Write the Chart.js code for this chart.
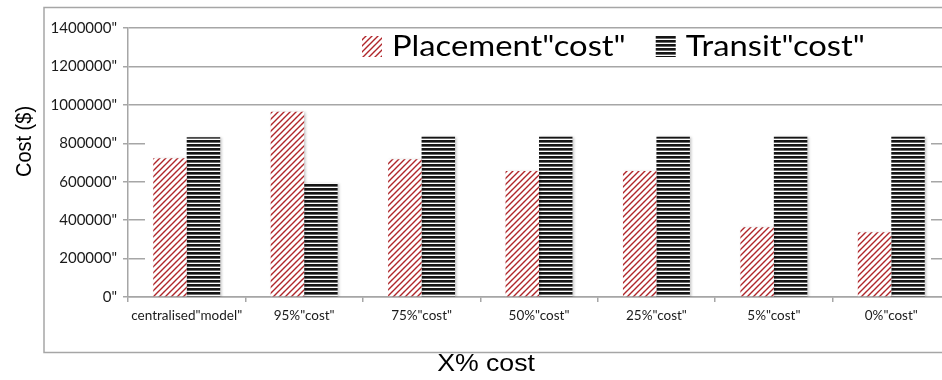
<!DOCTYPE html>
<html>
<head>
<meta charset="utf-8">
<script src="https://cdn.jsdelivr.net/npm/chart.js@4.4.1/dist/chart.umd.min.js"></script>
<style>
  html, body { margin: 0; padding: 0; background: #fff; overflow: hidden; }
  #wrap { position: relative; width: 960px; height: 380px; }
</style>
</head>
<body>
<div id="wrap"><canvas id="c"></canvas></div>
<script>
// Scenario names along the x axis
const categories = ['centralised"model"', '95%"cost"', '75%"cost"', '50%"cost"', '25%"cost"', '5%"cost"', '0%"cost"'];
// Cost per scenario ($)
const placementCost = [722000, 964000, 717000, 656000, 656000, 363000, 337000];
const transitCost   = [831000, 592000, 834000, 834000, 834000, 834000, 834000];
const seriesNames = ['Placement"cost"', 'Transit"cost"'];
// Value axis
const yMin = 0, yMax = 1400000, yStep = 200000;
const xTitle = 'X% cost';
const yTitle = 'Cost ($)';

const GREY = '#a6a6a6';

// Red diagonal hatch for placement cost
function hatchPattern() {
  const s = 6, c = document.createElement('canvas');
  c.width = s; c.height = s;
  const g = c.getContext('2d');
  g.fillStyle = '#fff'; g.fillRect(0, 0, s, s);
  g.strokeStyle = '#b0262a'; g.lineWidth = 1.4;
  g.beginPath();
  g.moveTo(-1, s + 1); g.lineTo(s + 1, -1);
  g.moveTo(-1, 1); g.lineTo(1, -1);
  g.moveTo(s - 1, s + 1); g.lineTo(s + 1, s - 1);
  g.stroke();
  return document.createElement('canvas').getContext('2d').createPattern(c, 'repeat');
}
// Black horizontal stripes for transit cost
function stripePattern() {
  const c = document.createElement('canvas');
  c.width = 4; c.height = 4;
  const g = c.getContext('2d');
  g.fillStyle = '#151515'; g.fillRect(0, 0, 4, 2);
  g.fillStyle = '#6a6a6a'; g.fillRect(0, 2, 4, 1);
  g.fillStyle = '#ffffff'; g.fillRect(0, 3, 4, 1);
  return document.createElement('canvas').getContext('2d').createPattern(c, 'repeat');
}

const decor = {
  id: 'decor',
  beforeDraw(chart) {
    const { ctx } = chart;
    ctx.save();
    ctx.strokeStyle = GREY;
    ctx.lineWidth = 1.5;
    ctx.strokeRect(44, 7.5, 1000, 345);
    ctx.restore();
  },
  beforeDatasetsDraw(chart) {
    const { ctx, scales: { x, y } } = chart;
    // plain white panel behind the bars hides the lower gridlines
    const top = y.getPixelForValue(920000);
    const left = x.left + 17;
    const right = 931;
    ctx.save();
    ctx.fillStyle = '#fff';
    ctx.fillRect(left, top, right - left, y.bottom - top - 1);
    ctx.restore();
    ctx.save();
    ctx.shadowColor = 'rgba(0,0,0,0.22)';
    ctx.shadowBlur = 2;
    ctx.shadowOffsetX = 1.5;
    ctx.shadowOffsetY = 0.5;
  },
  afterDatasetsDraw(chart) {
    const { ctx } = chart;
    ctx.restore();
    // legend (slightly widened lettering)
    const sx = 1.17;
    ctx.save();
    ctx.font = '28px Lato';
    ctx.textBaseline = 'middle';
    let lx = 362;
    const ly = 47;
    chart.data.datasets.forEach((ds) => {
      ctx.fillStyle = ds.backgroundColor;
      ctx.fillRect(lx, ly - 11, 20, 21);
      lx += 30;
      ctx.save();
      ctx.translate(lx, ly);
      ctx.scale(sx, 1);
      ctx.fillStyle = '#000';
      ctx.fillText(ds.label, 0, 0);
      ctx.restore();
      lx += ctx.measureText(ds.label).width * sx + 30;
    });
    ctx.restore();
    // y-axis title
    ctx.save();
    ctx.translate(25, 141.5);
    ctx.scale(1.1, 1);
    ctx.rotate(-Math.PI / 2);
    ctx.font = '20px "Liberation Sans"';
    ctx.textAlign = 'center';
    ctx.textBaseline = 'middle';
    ctx.fillStyle = '#000';
    ctx.fillText(yTitle, 0, 0);
    ctx.restore();
    // x-axis title
    ctx.save();
    ctx.translate(486, 364);
    ctx.scale(1.11, 1);
    ctx.font = '24px "Liberation Sans"';
    ctx.textAlign = 'center';
    ctx.textBaseline = 'middle';
    ctx.fillStyle = '#000';
    ctx.fillText(xTitle, 0, 0);
    ctx.restore();
  }
};

new Chart(document.getElementById('c'), {
  type: 'bar',
  data: {
    labels: categories,
    datasets: [
      { label: seriesNames[0], data: placementCost, backgroundColor: hatchPattern(), borderWidth: 0 },
      { label: seriesNames[1], data: transitCost, backgroundColor: stripePattern(), borderWidth: 0 }
    ]
  },
  options: {
    responsive: true,
    maintainAspectRatio: false,
    devicePixelRatio: 1,
    animation: false,
    layout: { padding: { top: 28, right: 10, left: 0, bottom: 0 } },
    categoryPercentage: 0.57,
    barPercentage: 1.0,
    plugins: { legend: { display: false }, tooltip: { enabled: false } },
    scales: {
      x: {
        grid: { display: true, drawOnChartArea: false, drawTicks: true, tickLength: 5, color: GREY, lineWidth: 1.5 },
        border: { display: true, color: GREY, width: 1.5 },
        ticks: { font: { family: 'Lato', size: 13.5 }, color: '#1a1a1a', padding: 6, maxRotation: 0 },
        afterFit(s) { s.height = 83; }
      },
      y: {
        min: yMin, max: yMax,
        ticks: { stepSize: yStep, font: { family: 'Lato', size: 15 }, color: '#1a1a1a', padding: 6, callback: v => v + '"' },
        grid: { color: GREY, lineWidth: 1.5, tickLength: 5, drawTicks: true },
        border: { display: true, color: GREY, width: 1.5 },
        afterFit(s) { s.width = 128; }
      }
    }
  },
  plugins: [decor]
});
</script>
</body>
</html>
